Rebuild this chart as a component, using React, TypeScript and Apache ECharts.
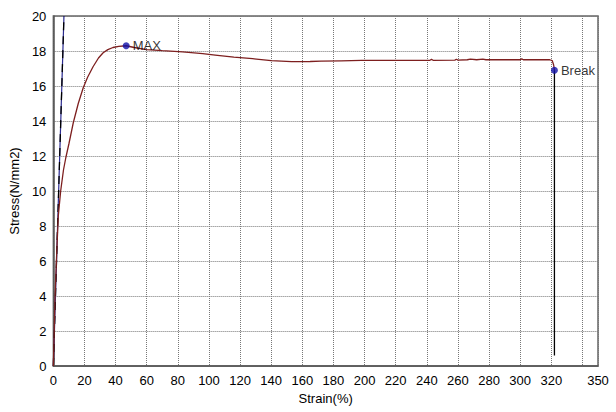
import React, { useEffect, useRef } from "react";
import * as echarts from "echarts";

const xTicksHidden = [340];
const modulusLine: [number, number][] = [
  [0, 0],
  [6.8, 20],
];
const stressCurve: [number, number][] = [
  [0, 0], [0.5, 1.8], [1.1, 4.0], [1.7, 5.4], [2.4, 7.0], [3.2, 8.6], [4.7, 10.0],
  [6.5, 11.2], [8, 11.9], [10, 12.7], [12.8, 13.9], [16, 15.0], [19.2, 15.9],
  [22, 16.5], [25.5, 17.1], [29, 17.6], [32, 17.9], [35, 18.08], [38.3, 18.2],
  [42, 18.27], [46.8, 18.3], [52, 18.2], [60, 18.08], [70, 18.02], [83, 17.95],
  [96, 17.85], [104, 17.77], [116, 17.65], [128, 17.56], [140, 17.45], [153, 17.39],
  [165, 17.4], [172, 17.42], [185, 17.44], [198, 17.46], [220, 17.47], [242, 17.47],
  [243, 17.52], [244, 17.47], [258, 17.48], [259, 17.53], [260, 17.48], [266, 17.5],
  [268, 17.54], [272, 17.5], [276, 17.54], [278, 17.5], [300, 17.5], [301, 17.55],
  [302, 17.5], [319, 17.5], [320.6, 17.45], [321.5, 17.2], [322, 16.9],
];
const breakDrop: [number, number][] = [
  [322, 16.9],
  [322, 0.6],
];
const markers = [
  { name: "MAX", value: [46.8, 18.3] },
  { name: "Break", value: [322, 16.9] },
];

export default function App() {
  const ref = useRef<HTMLDivElement>(null);
  useEffect(() => {
    const chart = echarts.init(ref.current!, null, { renderer: "svg" });
    const font = "Liberation Sans, Arial, sans-serif";
    chart.setOption({
      animation: false,
      backgroundColor: "#fff",
      grid: {
        left: 50,
        top: 16,
        right: 18,
        bottom: 46,
        show: true,
        borderColor: "#666",
        borderWidth: 1.5,
      },
      xAxis: {
        type: "value",
        min: 0,
        max: 350,
        interval: 20,
        name: "Strain(%)",
        nameLocation: "middle",
        nameGap: 25,
        nameTextStyle: { color: "#000", fontSize: 13, fontFamily: font },
        axisLine: { show: true, lineStyle: { color: "#555", width: 1.5 } },
        axisTick: { show: false },
        axisLabel: {
          color: "#000",
          fontSize: 13,
          fontFamily: font,
          margin: 8,
          showMaxLabel: true,
          formatter: (v: number) => (xTicksHidden.includes(v) ? "" : String(v)),
        },
        splitLine: { show: true, lineStyle: { color: "#777", type: [1, 1], width: 1 } },
      },
      yAxis: {
        type: "value",
        min: 0,
        max: 20,
        interval: 2,
        name: "Stress(N/mm2)",
        nameLocation: "middle",
        nameGap: 24,
        nameTextStyle: { color: "#000", fontSize: 13, fontFamily: font },
        axisLine: { show: true, lineStyle: { color: "#555", width: 1.5 } },
        axisTick: { show: false },
        axisLabel: { color: "#000", fontSize: 13, fontFamily: font, margin: 7 },
        splitLine: { show: true, lineStyle: { color: "#777", type: [1, 1], width: 1 } },
      },
      series: [
        {
          type: "line",
          data: modulusLine,
          showSymbol: false,
          lineStyle: { color: "#2b2b8f", width: 1.2 },
          z: 3,
        },
        {
          type: "line",
          data: modulusLine,
          showSymbol: false,
          lineStyle: { color: "#000", width: 1.3, type: [8, 6] },
          z: 4,
        },
        {
          type: "line",
          data: stressCurve,
          showSymbol: false,
          lineStyle: { color: "#7d1f1f", width: 1.3 },
          z: 5,
        },
        {
          type: "line",
          data: breakDrop,
          showSymbol: false,
          lineStyle: { color: "#000", width: 1.3 },
          z: 5,
        },
        {
          type: "scatter",
          data: markers,
          symbolSize: 7,
          itemStyle: { color: "#1010a8" },
          label: {
            show: true,
            position: "right",
            distance: 3,
            formatter: "{b}",
            color: "#000",
            fontSize: 13,
            fontFamily: font,
          },
          z: 6,
        },
      ],
    });
    return () => chart.dispose();
  }, []);
  return (
    <div
      ref={ref}
      style={{ position: "fixed", left: 0, top: 0, width: 616, height: 412 }}
    />
  );
}
